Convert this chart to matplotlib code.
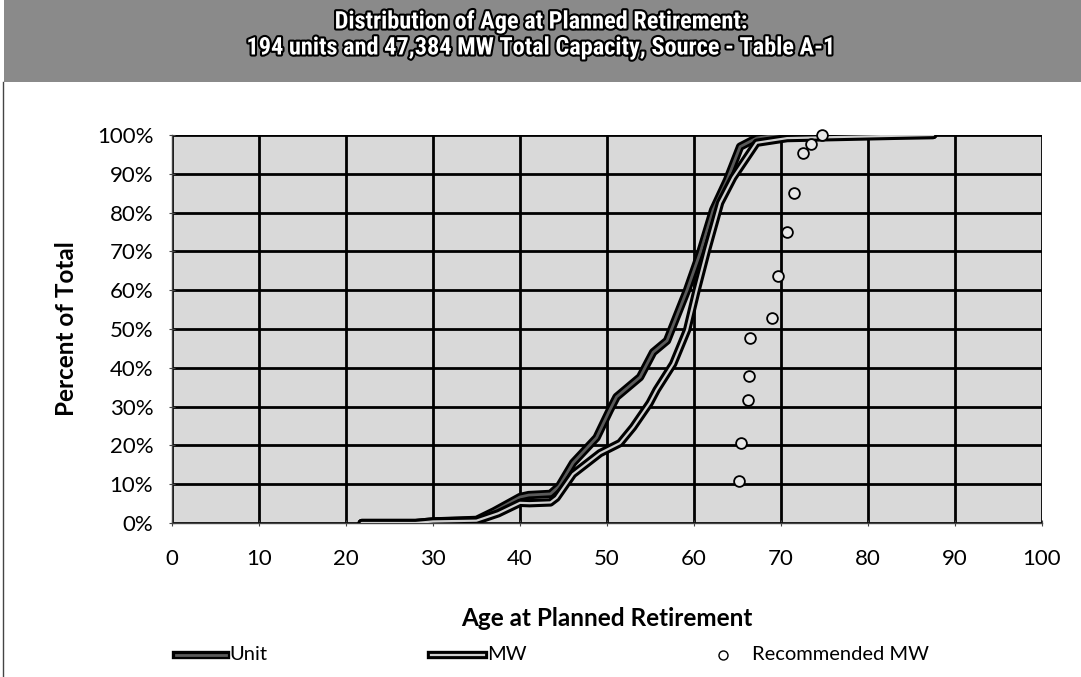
import matplotlib
matplotlib.use("Agg")
import matplotlib.pyplot as plt
import matplotlib.patheffects as pe
from matplotlib import font_manager as fm
from matplotlib.patches import Rectangle
from matplotlib.lines import Line2D

# ---- data ----
unit_age = [21.8, 28.0, 30.0, 35.0, 37.0, 40.0, 41.0, 43.5, 44.5, 46.1, 48.8, 50.3, 51.1,
            53.8, 55.3, 56.9, 59.2, 60.7, 62.2, 63.8, 65.3, 67.2, 69.6, 87.5]
unit_pct = [0.0, 0.0, 0.4, 0.8, 3.0, 6.7, 7.2, 7.5, 9.5, 15.5, 22.0, 29.0, 32.5,
            37.6, 44.0, 47.0, 60.0, 69.6, 80.7, 88.4, 97.0, 99.2, 100.0, 100.0]

mw_age = [21.8, 28.0, 30.0, 35.0, 37.5, 40.0, 41.1, 43.5, 44.2, 46.1, 49.2, 51.5, 53.0,
          54.9, 55.7, 57.6, 59.2, 60.3, 61.5, 63.0, 64.5, 67.2, 70.7, 87.5]
mw_pct = [0.0, 0.0, 0.4, 0.6, 2.5, 5.2, 5.1, 5.3, 6.5, 12.6, 18.0, 20.6, 24.7,
          30.9, 34.3, 41.0, 49.7, 60.0, 70.4, 82.5, 89.0, 98.0, 99.2, 100.0]

rec_age = [65.2, 65.4, 66.2, 66.3, 66.4, 69.0, 69.7, 70.7, 71.5, 72.5, 73.5, 74.7]
rec_pct = [10.8, 20.6, 31.7, 37.9, 47.7, 52.8, 63.7, 75.0, 85.0, 95.4, 97.7, 100.0]

x_ticks = [0, 10, 20, 30, 40, 50, 60, 70, 80, 90, 100]
y_ticks = [0, 10, 20, 30, 40, 50, 60, 70, 80, 90, 100]
y_ticklabels = [f"{v}%" for v in y_ticks]

title_lines = ["Distribution of Age at Planned Retirement:",
               "194 units and 47,384 MW Total Capacity, Source - Table A-1"]

FONT = ["Lato", "DejaVu Sans"]
W, H = 1081, 677


def pick_family(cands):
    for c in cands:
        try:
            fm.findfont(fm.FontProperties(family=c, weight="bold"), fallback_to_default=False)
            return c
        except Exception:
            continue
    return "DejaVu Sans"


TITLE_FAMILY = pick_family(["Liberation Sans Narrow", "Roboto Condensed",
                            "DejaVu Sans Condensed", "DejaVu Sans"])

fig = plt.figure(figsize=(W / 100, H / 100), dpi=100)
fig.patch.set_facecolor("white")

# title band
fig.patches.append(Rectangle((4 / W, 1 - 82 / H), 1 - 4 / W, 82 / H, transform=fig.transFigure,
                             facecolor="#8a8a8a", edgecolor="none", zorder=0))
# left frame line
fig.lines.append(Line2D([3 / W, 3 / W], [0.0, 1 - 82 / H], transform=fig.transFigure,
                        color="#444444", lw=1.0))

stroke = [pe.withStroke(linewidth=3, foreground="black")]
title_texts = []
for txt, yp in zip(title_lines, [22, 48]):
    t = fig.text(0.5, 1 - yp / H, txt, ha="center", va="center", color="white",
                 fontsize=16, fontweight="bold", fontstretch="condensed",
                 family=[TITLE_FAMILY, "DejaVu Sans"], path_effects=stroke)
    title_texts.append(t)
# scale title so the second line spans about 703 px like the reference (capped)
fig.canvas.draw()
w2 = title_texts[1].get_window_extent().width
for t in title_texts:
    t.set_fontsize(min(16 * 703.0 / w2, 17.5))

L, R, T, B = 172, 1042, 135, 523
ax = fig.add_axes([L / W, 1 - B / H, (R - L) / W, (B - T) / H])
ax.set_facecolor("#d9d9d9")
ax.set_xlim(0, 100)
ax.set_ylim(0, 100)
ax.set_xticks(x_ticks)
ax.set_yticks(y_ticks)
ax.set_yticklabels(y_ticklabels)
ax.grid(True, color="black", lw=2.0)
ax.set_axisbelow(True)
for s in ["top", "right"]:
    ax.spines[s].set_visible(False)
for s in ["left", "bottom"]:
    ax.spines[s].set_color("#444444")
    ax.spines[s].set_linewidth(1.0)
ax.tick_params(axis="both", length=5, direction="inout", color="#444444", labelsize=16)
ax.tick_params(axis="x", pad=16)
ax.tick_params(axis="y", pad=11)
for lab in ax.get_xticklabels() + ax.get_yticklabels():
    lab.set_family(FONT)

unit_fx = [pe.Stroke(linewidth=6, foreground="black"), pe.Normal()]
mw_fx = [pe.Stroke(linewidth=6, foreground="black"), pe.Normal()]
ax.plot(unit_age, unit_pct, color="#5a5a5a", lw=2.0, path_effects=unit_fx,
        solid_capstyle="round", solid_joinstyle="round", label="Unit", zorder=3)
ax.plot(mw_age, mw_pct, color="#cfcfcf", lw=1.6, path_effects=mw_fx,
        solid_capstyle="round", solid_joinstyle="round", label="MW", zorder=3)
ax.scatter(rec_age, rec_pct, s=60, facecolors="#e8e8e8", edgecolors="black",
           linewidths=1.3, zorder=4, label="Recommended MW", clip_on=False)

ax.set_xlabel("Age at Planned Retirement", fontsize=17.5, fontweight="bold", family=FONT)
ax.xaxis.set_label_coords(0.5, (B - 618) / (B - T), transform=ax.transAxes)
ax.xaxis.label.set_va("center")
ax.set_ylabel("Percent of Total", fontsize=17.5, fontweight="bold", family=FONT)
ax.yaxis.set_label_coords((67 - L) / (R - L), 0.5, transform=ax.transAxes)
ax.yaxis.label.set_va("center")

# legend
ly = 1 - 655 / H
fig.lines.append(Line2D([176 / W, 226 / W], [ly, ly], transform=fig.transFigure,
                        color="#5a5a5a", lw=2.0, path_effects=unit_fx))
fig.text(229 / W, ly, "Unit", ha="left", va="center", fontsize=14.5, family=FONT)
fig.lines.append(Line2D([431 / W, 484 / W], [ly, ly], transform=fig.transFigure,
                        color="#cfcfcf", lw=1.6, path_effects=mw_fx))
fig.text(487 / W, ly, "MW", ha="left", va="center", fontsize=14.5, family=FONT)
fig.lines.append(Line2D([723 / W], [ly], transform=fig.transFigure, marker="o",
                        markersize=6.5, markerfacecolor="white", markeredgecolor="black",
                        markeredgewidth=1.0, lw=0))
fig.text(752 / W, ly, "Recommended MW", ha="left", va="center", fontsize=14.5, family=FONT)

fig.savefig("out.png", dpi=100)
